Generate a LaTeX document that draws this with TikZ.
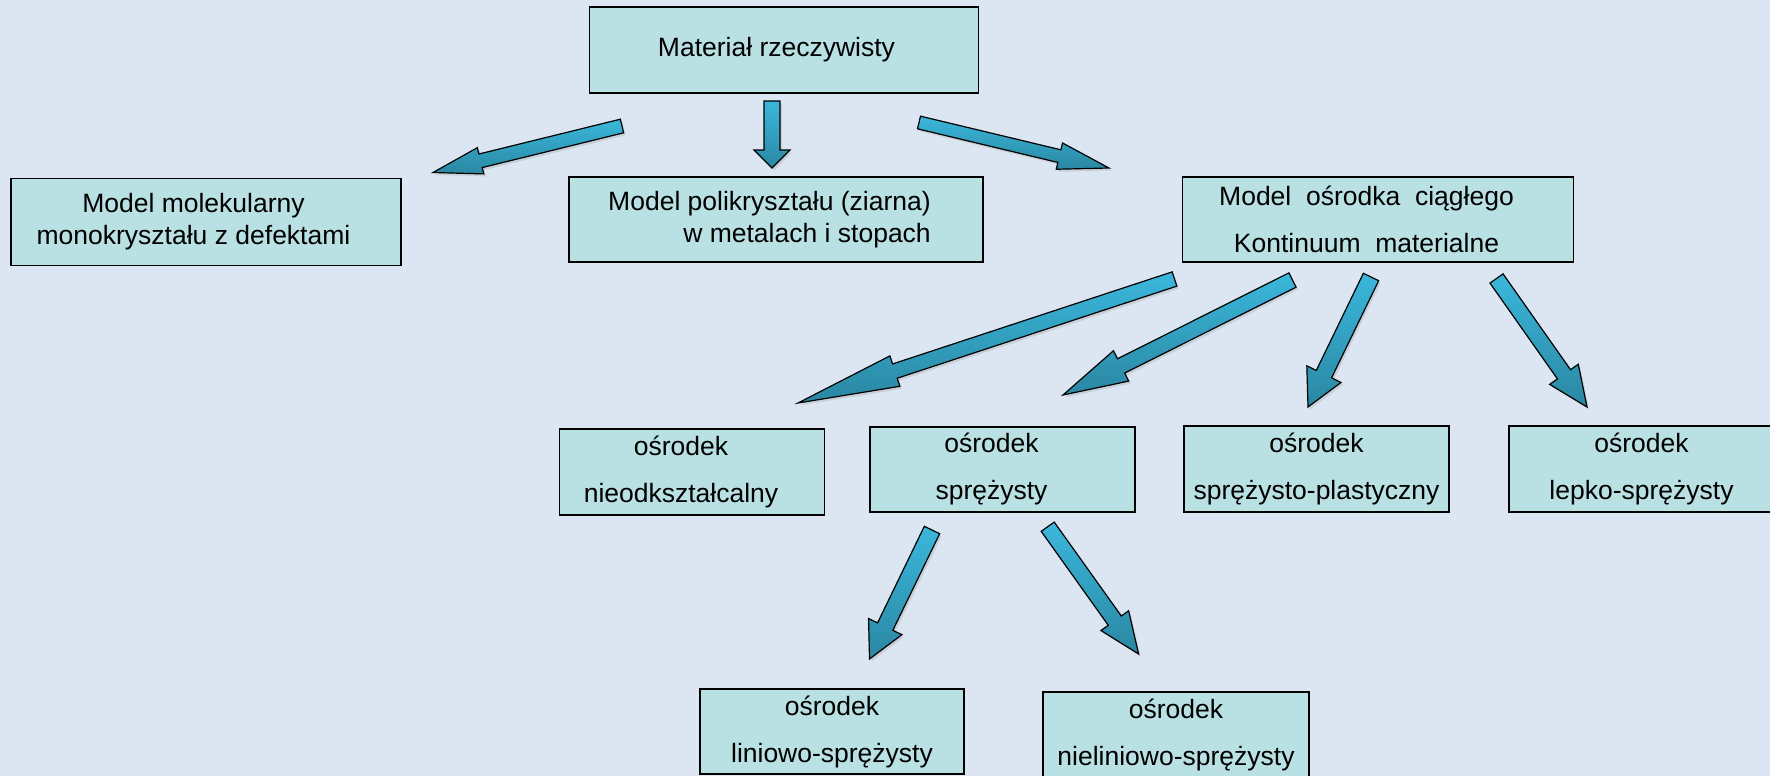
\documentclass[tikz,border=0pt]{standalone}
\usepackage{fontspec}
\setmainfont{Liberation Sans}
\usepackage{tikz}
\usetikzlibrary{positioning,calc,shadows}
\definecolor{backdrop}{HTML}{DCE6F2}
\definecolor{boxfill}{HTML}{B9E0E3}
\definecolor{arrowlight}{HTML}{3BB7DC}
\definecolor{arrowdark}{HTML}{2A87A2}

\begin{document}
\begin{tikzpicture}[x=1pt, y=-1pt, model/.style={draw=black, fill=boxfill, line width=1.6pt, inner sep=0pt, minimum height=85pt, align=center, font=\fontsize{26.5}{32}\selectfont}, blockarrow/.style n args={3}{draw=black, line width=1.2pt, top color=arrowlight, bottom color=arrowdark, drop shadow={opacity=0.22, shadow xshift=2pt, shadow yshift=-2.5pt}, to path={-- ($(\tikztostart)!#3pt!90:(\tikztotarget)$) -- ($(\tikztotarget)!#1pt!(\tikztostart)!#3pt!90:(\tikztotarget)$) -- ($(\tikztotarget)!#1pt!(\tikztostart)!#2pt!90:(\tikztotarget)$) -- (\tikztotarget) -- ($(\tikztotarget)!#1pt!(\tikztostart)!#2pt!-90:(\tikztotarget)$) -- ($(\tikztotarget)!#1pt!(\tikztostart)!#3pt!-90:(\tikztotarget)$) -- ($(\tikztostart)!#3pt!-90:(\tikztotarget)$) -- cycle}}]
\fill[backdrop] (0,0) rectangle (1770,776);
\useasboundingbox (0,0) rectangle (1770,776);
% first level
\node[model, minimum width=389pt, minimum height=86pt] (real) at (784,50) {Materiał rzeczywisty\kern15pt};
\node[model, minimum width=390pt, minimum height=87pt] (mol) at (206,222) {Model molekularny\kern25pt\\monokryształu z defektami\kern25pt};
\node[model, minimum width=414pt, align=right] (poly) at (776,219.5) {Model polikryształu (ziarna)\kern13pt\\w metalach i stopach\kern13pt};
\node[model, minimum width=391pt] (cont) at (1378,219.5) {Model\ \ ośrodka\ \ ciągłego\kern23pt\\[15pt]Kontinuum\ \ materialne\kern23pt};
\coordinate (s0) at (622,126); \coordinate (e0) at (433,172.5);
\draw[blockarrow={49}{13.5}{7}] (s0) to (e0);
\coordinate (s1) at (772,101); \coordinate (e1) at (772,168);
\draw[blockarrow={18}{18}{8}] (s1) to (e1);
\coordinate (s2) at (919,122.5); \coordinate (e2) at (1109,168);
\draw[blockarrow={51}{13.5}{6.5}] (s2) to (e2);
% continuum
\node[model, minimum width=265pt, minimum height=86pt] (rigid) at (692,472) {ośrodek\kern22pt\\[15pt]nieodkształcalny\kern22pt};
\node[model, minimum width=265pt] (elast) at (1002.5,469.5) {ośrodek\kern22pt\\[15pt]sprężysty\kern22pt};
\node[model, minimum width=265pt, minimum height=86pt] (elpl) at (1316.5,469) {ośrodek\\[15pt]sprężysto-plastyczny};
\node[model, minimum width=265pt, minimum height=86pt] (visc) at (1641.5,469) {ośrodek\\[15pt]lepko-sprężysty};
\coordinate (s3) at (1174.5,279); \coordinate (e3) at (798,403);
\draw[blockarrow={102}{16}{7.5}] (s3) to (e3);
\coordinate (s4) at (1292.5,280); \coordinate (e4) at (1063,395);
\draw[blockarrow={65}{17}{8}] (s4) to (e4);
\coordinate (s5) at (1371,277); \coordinate (e5) at (1308,407);
\draw[blockarrow={36.5}{19}{8.5}] (s5) to (e5);
\coordinate (s6) at (1496.5,278.5); \coordinate (e6) at (1587,407);
\draw[blockarrow={40}{17.5}{8}] (s6) to (e6);
% elastic
\node[model, minimum width=264pt] (lin) at (832,731.5) {ośrodek\\[15pt]liniowo-sprężysty};
\node[model, minimum width=266pt] (nonlin) at (1176,734.5) {ośrodek\\[15pt]nieliniowo-sprężysty};
\coordinate (s7) at (932,530); \coordinate (e7) at (869.5,659);
\draw[blockarrow={36}{18.5}{8.5}] (s7) to (e7);
\coordinate (s8) at (1047.7,526.7); \coordinate (e8) at (1138.6,654);
\draw[blockarrow={41}{17}{8}] (s8) to (e8);
\end{tikzpicture}
\end{document}
